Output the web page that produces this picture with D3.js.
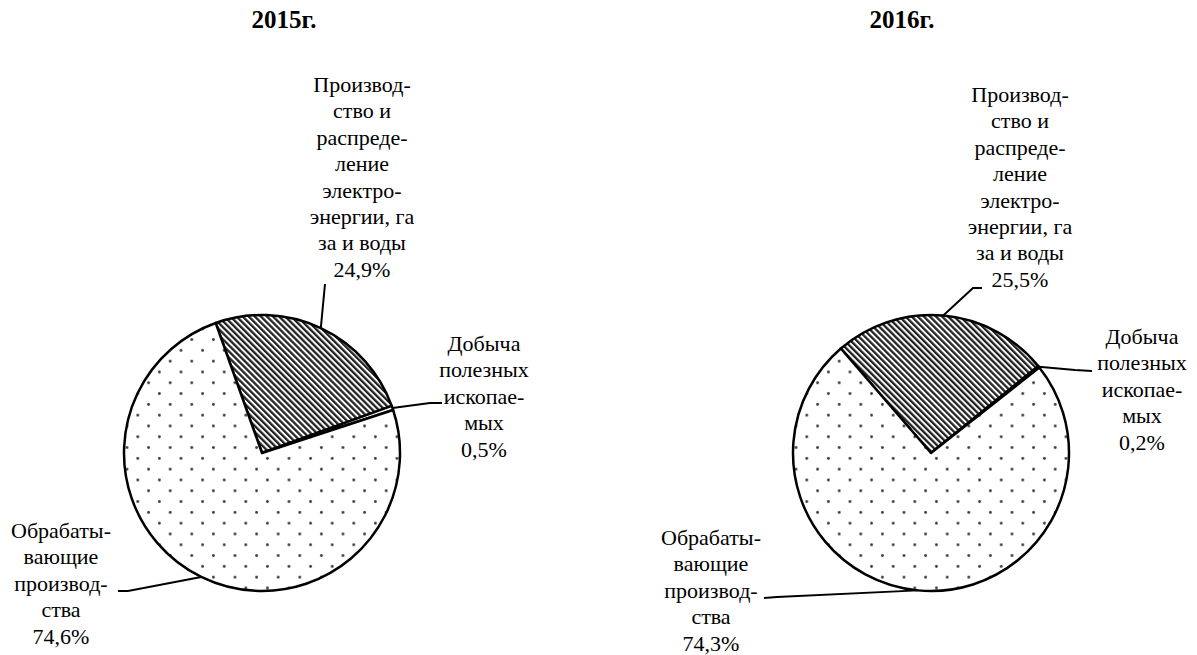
<!DOCTYPE html>
<html>
<head>
<meta charset="utf-8">
<script src="https://cdn.jsdelivr.net/npm/d3@7/dist/d3.min.js"></script>
<style>
    html, body { margin: 0; padding: 0; background: #fff; }
    svg { display: block; }
    text { font-family: "Liberation Serif", "DejaVu Serif", serif; fill: #000; }
</style>
</head>
<body>
<div id="chart"></div>
<script>
// --- data ---
const years = ["2015г.", "2016г."];
const categories = [
    "Производство и распределение электроэнергии, газа и воды",
    "Добыча полезных ископаемых",
    "Обрабатывающие производства"
];
const shares2015 = [24.9, 0.5, 74.6];
const shares2016 = [25.5, 0.2, 74.3];
// wrapped label text as it appears in the picture
const labelLines = [
    ["Производ-", "ство и", "распреде-", "ление", "электро-", "энергии, га", "за и воды"],
    ["Добыча", "полезных", "ископае-", "мых"],
    ["Обрабаты-", "вающие", "производ-", "ства"]
];

// --- layout ---
const width = 1197, height = 655;
const radius = 138;
const lineH = 26.4;
const charts = [
    {
        title: years[0], values: shares2015,
        cx: 262, cy: 453, titleX: 284, startDeg: -19.6,
        labels: [
            { x: 362, y: 92, leader: [[325, 284]] },
            { x: 484, y: 351, leader: [[430, 403], [442, 403]] },
            { x: 61, y: 538, leader: [[128, 591], [118, 591]] }
        ]
    },
    {
        title: years[1], values: shares2016,
        cx: 931, cy: 453, titleX: 902, startDeg: -40.8,
        labels: [
            { x: 1020, y: 102, leader: [[973, 288], [982, 288]] },
            { x: 1142, y: 344, leader: [[1075, 370], [1092, 371]] },
            { x: 711, y: 545, leader: [[777, 597], [764, 598]] }
        ]
    }
];
const fills = ["url(#hatch)", "#fff", "url(#dots)"];
const fmt = v => String(v.toFixed(1)).replace(".", ",") + "%";

const svg = d3.select("#chart").append("svg")
    .attr("width", width)
    .attr("height", height);

// patterns
const defs = svg.append("defs");
const hatch = defs.append("pattern")
    .attr("id", "hatch")
    .attr("patternUnits", "userSpaceOnUse")
    .attr("width", 4.3).attr("height", 4.3)
    .attr("patternTransform", "rotate(-45)");
hatch.append("rect").attr("width", 4.3).attr("height", 4.3).attr("fill", "#fff");
hatch.append("rect").attr("width", 2.3).attr("height", 4.3).attr("fill", "#222");

const dots = defs.append("pattern")
    .attr("id", "dots")
    .attr("patternUnits", "userSpaceOnUse")
    .attr("width", 21.6).attr("height", 21.6);
dots.append("rect").attr("width", 21.6).attr("height", 21.6).attr("fill", "#fff");
dots.append("circle").attr("cx", 5.4).attr("cy", 5.4).attr("r", 1.4).attr("fill", "#333");
dots.append("circle").attr("cx", 16.2).attr("cy", 16.2).attr("r", 1.4).attr("fill", "#333");

const arc = d3.arc().innerRadius(0).outerRadius(radius);

charts.forEach(ch => {
    const start = ch.startDeg * Math.PI / 180;
    const pie = d3.pie().sort(null).value(d => d)
        .startAngle(start).endAngle(start + 2 * Math.PI);
    const arcs = pie(ch.values);

    svg.append("text")
        .attr("x", ch.titleX).attr("y", 28)
        .attr("text-anchor", "middle")
        .attr("font-size", 25)
        .attr("font-weight", "bold")
        .text(ch.title);

    const g = svg.append("g").attr("transform", `translate(${ch.cx},${ch.cy})`);
    g.selectAll("path")
        .data(arcs)
        .enter().append("path")
        .attr("d", arc)
        .attr("fill", (d, i) => fills[i])
        .attr("stroke", "#000")
        .attr("stroke-width", 2.5)
        .attr("stroke-linejoin", "round");

    // leaders
    arcs.forEach((d, i) => {
        const mid = (d.startAngle + d.endAngle) / 2;
        const p0 = [ch.cx + radius * Math.sin(mid), ch.cy - radius * Math.cos(mid)];
        const pts = [p0].concat(ch.labels[i].leader);
        svg.append("path")
            .attr("d", d3.line()(pts))
            .attr("fill", "none")
            .attr("stroke", "#000")
            .attr("stroke-width", 2);
    });

    // labels
    arcs.forEach((d, i) => {
        const lines = labelLines[i].concat([fmt(ch.values[i])]);
        const t = svg.append("text")
            .attr("text-anchor", "middle")
            .attr("font-size", 22);
        lines.forEach((s, k) => {
            t.append("tspan")
                .attr("x", ch.labels[i].x)
                .attr("y", ch.labels[i].y + k * lineH)
                .text(s);
        });
    });
});
</script>
</body>
</html>
